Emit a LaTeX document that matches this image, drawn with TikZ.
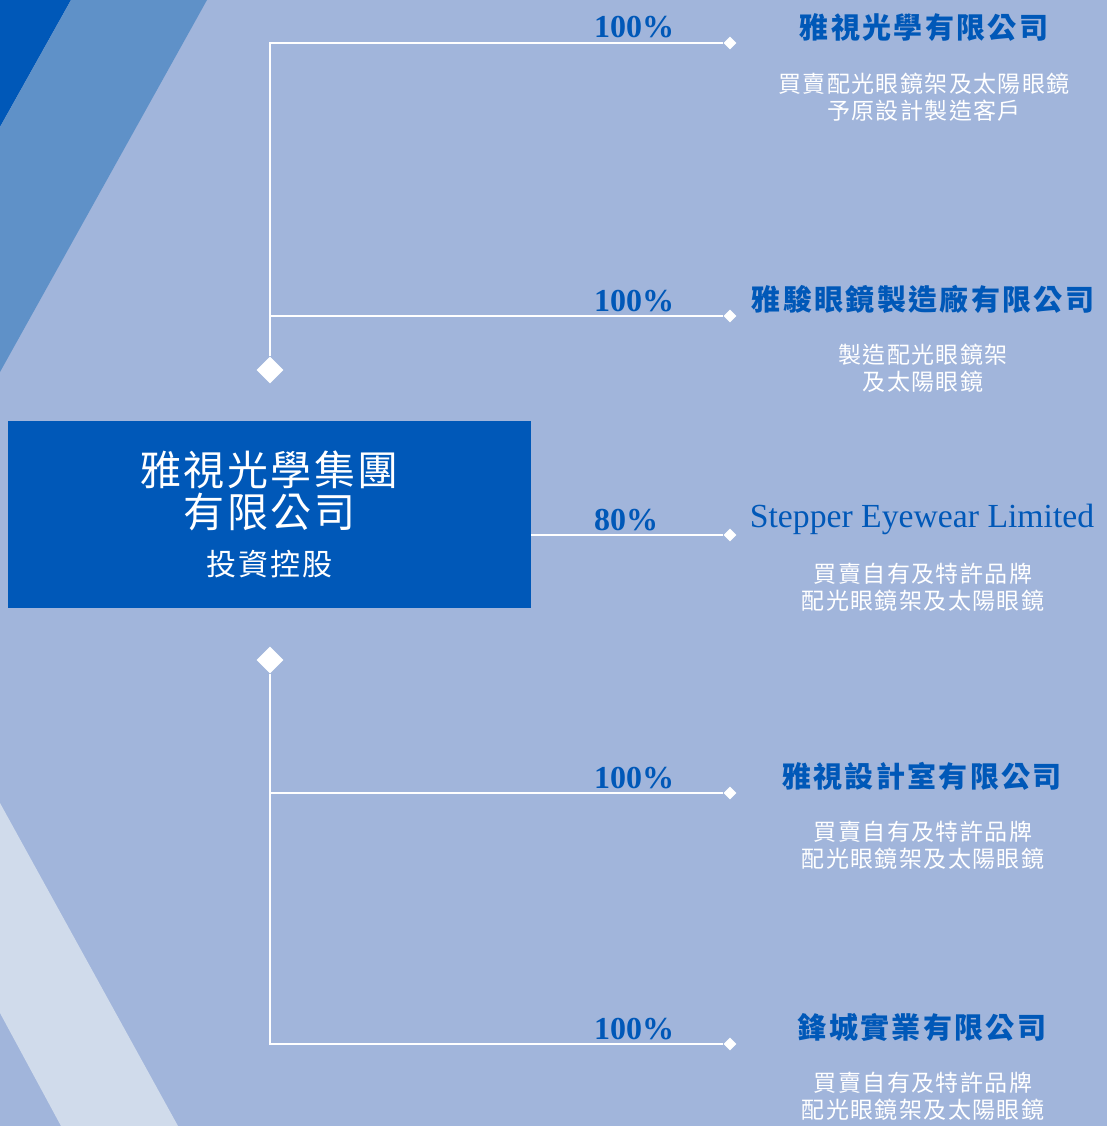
\documentclass[tikz,border=0pt]{standalone}
\usepackage{fontspec}
\usepackage{tikz}
\setmainfont{Liberation Serif}
\newfontfamily\cjk[LetterSpace=6]{Noto Sans CJK TC}
\newfontfamily\cjkhead[LetterSpace=8]{Noto Sans CJK TC}
\usetikzlibrary{shapes.geometric}
\usetikzlibrary{positioning}
\definecolor{sheet}{HTML}{A1B5DB}
\definecolor{deep}{HTML}{0058B8}
\definecolor{mid}{HTML}{5F91C8}
\definecolor{pale}{HTML}{D0DBEB}
\tikzset{branch/.style = {draw=white, line width=1.6pt},
         stake/.style  = {diamond, fill=white, inner sep=0pt, minimum size=27pt},
         tip/.style    = {diamond, fill=white, inner sep=0pt, minimum size=13pt},
         share/.style  = {anchor=base west, text=deep, inner sep=0pt,
                          font=\fontsize{32}{34}\selectfont\bfseries},
         firm/.style   = {text=deep, inner sep=0pt,
                          font=\cjkhead\bfseries\fontsize{29}{31}\selectfont},
         duty/.style   = {text=white, inner sep=0pt, align=center,
                          font=\cjk\fontsize{23}{27}\selectfont},
         hold/.style   = {fill=deep, text=white, align=center, inner sep=0pt,
                          minimum width=523pt, minimum height=187pt,
                          font=\cjk\fontsize{41}{42}\selectfont}}

\begin{document}
\begin{tikzpicture}[x=1pt, y=-1pt]
    \useasboundingbox (0, 0) rectangle (1107, 1126);
    \fill [sheet] (0, 0) rectangle (1107, 1126);

    % stripes
    \fill [deep] (0, 0) -- (71, 0) -- (0, 127) -- cycle;
    \fill [mid] (71, 0) -- (207, 0) -- (0, 372) -- (0, 127) -- cycle;
    \fill [pale] (0, 803) -- (178, 1126) -- (61, 1126) -- (0, 1013) -- cycle;

    \node [hold] (group) at (269.5, 514.5)
        {雅視光學集團\\有限公司\\[6pt]
         {\fontsize{30}{32}\selectfont 投資控股}};

    \node [stake] (up) at (270, 370) {};
    \node [stake] (down) at (270, 660) {};

    \node [tip] (e1) at (730, 43) {};
    \node [tip] (e2) at (730, 316) {};
    \node [tip] (e3) at (730, 535) {};
    \node [tip] (e4) at (730, 793) {};
    \node [tip] (e5) at (730, 1044) {};

    \coordinate (k1) at (270, 43);
    \coordinate (k2) at (270, 316);
    \coordinate (k4) at (270, 793);
    \coordinate (k5) at (270, 1044);

    \draw [branch] (up) -- (k1) -- (e1);
    \draw [branch] (k2) -- (e2);
    \draw [branch] (group.east |- e3) -- (e3);
    \draw [branch] (down) -- (k5) -- (e5);
    \draw [branch] (k4) -- (e4);

    \node [share] (p1) at (594, 38) {100\%};
    \node [share] (p2) at (594, 311) {100\%};
    \node [share] (p3) at (594, 530) {80\%};
    \node [share] (p4) at (594, 788) {100\%};
    \node [share] (p5) at (594, 1039) {100\%};

    \node [firm] (n1) at (924, 28) {雅視光學有限公司};
    \node [firm] (n2) at (923, 299) {雅駿眼鏡製造廠有限公司};
    \node [text=deep, inner sep=0pt, font=\fontsize{33.7}{35}\selectfont]
        (n3) at (922, 519) {Stepper Eyewear Limited};
    \node [firm] (n4) at (922, 776) {雅視設計室有限公司};
    \node [firm] (n5) at (922, 1027) {鋒城實業有限公司};

    \node [duty] (d1) at (924, 97) {買賣配光眼鏡架及太陽眼鏡\\予原設計製造客戶};
    \node [duty] (d2) at (923, 368) {製造配光眼鏡架\\及太陽眼鏡};
    \node [duty] (d3) at (923, 587) {買賣自有及特許品牌\\配光眼鏡架及太陽眼鏡};
    \node [duty] (d4) at (923, 845) {買賣自有及特許品牌\\配光眼鏡架及太陽眼鏡};
    \node [duty] (d5) at (923, 1096) {買賣自有及特許品牌\\配光眼鏡架及太陽眼鏡};
  \end{tikzpicture}
\end{document}
